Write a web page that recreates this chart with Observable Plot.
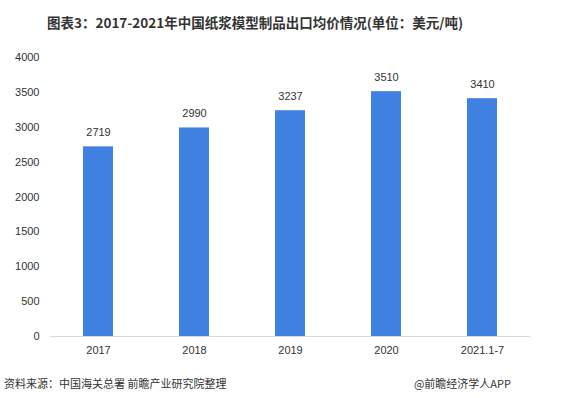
<!DOCTYPE html>
<html>
<head>
<meta charset="utf-8">
<script src="https://cdn.jsdelivr.net/npm/d3@7"></script>
<script src="https://cdn.jsdelivr.net/npm/@observablehq/plot@0.6"></script>
<style>
  html, body { margin: 0; padding: 0; background: #fff; }
  body { width: 566px; height: 398px; overflow: hidden; font-family: "Noto Sans CJK SC", "Noto Sans", sans-serif; }
  #title { height: 40px; line-height: 44px; padding-left: 47px; font-size: 13.5px; font-weight: bold; color: #333; white-space: nowrap; }
  #chart svg { display: block; }
  #footer { position: relative; height: 36px; font-size: 11px; color: #333; }
  #footer .l { position: absolute; left: 4px; top: 13px; }
  #footer .r { position: absolute; right: 55px; top: 13px; }
</style>
</head>
<body>
<div id="title">图表3：2017-2021年中国纸浆模型制品出口均价情况(单位：美元/吨)</div>
<div id="chart"></div>
<div id="footer"><span class="l">资料来源：中国海关总署 前瞻产业研究院整理</span><span class="r">@前瞻经济学人APP</span></div>
<script>
const categories = ["2017", "2018", "2019", "2020", "2021.1-7"];
const values = [2719, 2990, 3237, 3510, 3410];
const yTicks = [0, 500, 1000, 1500, 2000, 2500, 3000, 3500, 4000];

const data = categories.map((c, i) => ({cat: c, value: values[i]}));

const chart = Plot.plot({
  width: 566,
  height: 322,
  marginTop: 17,
  marginBottom: 26,
  marginLeft: 50,
  marginRight: 36,
  style: {fontFamily: "Arial, 'Liberation Sans', sans-serif", fontSize: "11px", color: "#333"},
  x: {domain: categories, paddingInner: 0.69, paddingOuter: 0.345, label: null, tickSize: 0, tickPadding: 10},
  y: {domain: [0, 4000], ticks: yTicks, tickFormat: d => String(d), label: null, tickSize: 0, tickPadding: 11},
  marks: [
    Plot.barY(data, {x: "cat", y: "value", fill: "#4080e0"}),
    Plot.ruleY([0], {stroke: "#d9d9d9", strokeWidth: 1}),
    Plot.text(data, {x: "cat", y: "value", text: d => String(d.value), dy: -14, fill: "#333", fontSize: 11})
  ]
});
document.getElementById("chart").appendChild(chart);
</script>
</body>
</html>
